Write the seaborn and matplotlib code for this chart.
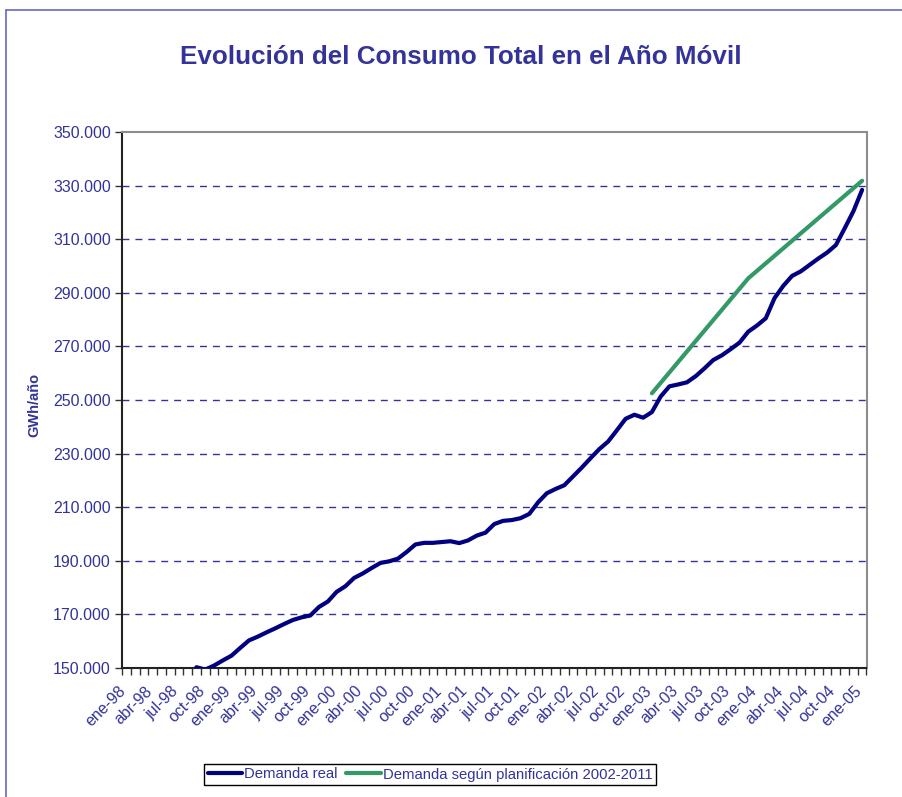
import numpy as np
import pandas as pd
import matplotlib
matplotlib.use('Agg')
import matplotlib.pyplot as plt
import seaborn as sns
from matplotlib.lines import Line2D
from matplotlib.ticker import FuncFormatter, FixedLocator
from matplotlib.transforms import ScaledTranslation

# ---------------- data ----------------
meses = ['ene', 'feb', 'mar', 'abr', 'may', 'jun', 'jul', 'ago', 'sep', 'oct', 'nov', 'dic']
anios = ['98', '99', '00', '01', '02', '03', '04', '05']
categorias = [f'{m}-{a}' for a in anios for m in meses][:85]   # ene-98 .. ene-05

# Demanda real (GWh/año, año móvil) from sep-98 to ene-05
real_inicio = 'sep-98'
demanda_real = [
    150300, 149400, 150900, 152800,                                   # sep-98 .. dic-98
    154600, 157500, 160300, 161700, 163300, 164800,                   # ene-99 .. jun-99
    166400, 167900, 168900, 169600, 172800, 174800,                   # jul-99 .. dic-99
    178400, 180500, 183600, 185300, 187300, 189200,                   # ene-00 .. jun-00
    189800, 190800, 193300, 196100, 196700, 196700,                   # jul-00 .. dic-00
    197000, 197300, 196600, 197600, 199400, 200500,                   # ene-01 .. jun-01
    203700, 204900, 205200, 205900, 207500, 211800,                   # jul-01 .. dic-01
    215200, 216800, 218200, 221500, 224800, 228300,                   # ene-02 .. jun-02
    231700, 234500, 238700, 243000, 244500, 243400,                   # jul-02 .. dic-02
    245500, 251300, 255100, 255800, 256600, 258900,                   # ene-03 .. jun-03
    261800, 264900, 266700, 269000, 271400, 275500,                   # jul-03 .. dic-03
    277800, 280500, 288000, 292600, 296300, 298000,                   # ene-04 .. jun-04
    300400, 302800, 305000, 307800, 314000, 320400,                   # jul-04 .. dic-04
    328400,                                                           # ene-05
]

plan_meses = ['ene-03', 'dic-03', 'ene-05']
demanda_plan = [252500, 295400, 331800]

etiquetas_x = categorias[::3]
yticks = [150000, 170000, 190000, 210000, 230000, 250000, 270000, 290000, 310000, 330000, 350000]

# ---------------- frames ----------------
i0 = categorias.index(real_inicio)
df_real = pd.DataFrame({'mes': categorias[i0:i0 + len(demanda_real)], 'valor': demanda_real})
df_real['pos'] = df_real['mes'].map(categorias.index)
df_plan = pd.DataFrame({'mes': plan_meses, 'valor': demanda_plan})
df_plan['pos'] = df_plan['mes'].map(categorias.index)

# ---------------- style ----------------
sns.set_theme(style='white')
plt.rcParams['font.family'] = ['Liberation Sans', 'DejaVu Sans']
TXT = '#333399'

W, H = 902, 797
fig = plt.figure(figsize=(W / 100, H / 100), dpi=100)
fig.patch.set_facecolor('white')
L, R, T, B = 122, 866.5, 132, 668
ax = fig.add_axes([L / W, 1 - B / H, (R - L) / W, (B - T) / H])

sns.lineplot(data=df_real, x='pos', y='valor', ax=ax, color='#000080', linewidth=3.0,
             label='Demanda real', solid_capstyle='round', solid_joinstyle='round', zorder=3)
sns.lineplot(data=df_plan, x='pos', y='valor', ax=ax, color='#339966', linewidth=3.0,
             label='Demanda según planificación 2002-2011', solid_capstyle='round',
             solid_joinstyle='round', zorder=4)

n = len(categorias)
ax.set_xlim(-0.5, n - 0.5)
ax.set_ylim(150000, 350000)

# y axis
ax.set_yticks(yticks)
ax.yaxis.set_major_formatter(FuncFormatter(lambda v, p: f'{int(v):,}'.replace(',', '.')))
ax.tick_params(axis='y', which='major', direction='out', length=5, width=1, color='#333333',
               labelsize=11.5, labelcolor=TXT, pad=3, left=True)
for yv in yticks[1:-1]:
    ax.axhline(yv, color='#333399', linewidth=1.0, linestyle=(0, (5, 4.3)), zorder=1)

# x axis: minor ticks = category boundaries (marks), major = labels
ax.xaxis.set_minor_locator(FixedLocator(np.arange(-0.5, n, 1.0)))
lab_pos = [categorias.index(c) for c in etiquetas_x]
ax.set_xticks(lab_pos)
ax.set_xticklabels(etiquetas_x, rotation=45, ha='right', va='top', rotation_mode='anchor')
ax.tick_params(axis='x', which='major', length=0, labelsize=11.5, labelcolor=TXT, pad=11)
ax.tick_params(axis='x', which='minor', direction='out', length=5, width=1, color='#333333',
               bottom=True)
for lab in ax.get_xticklabels():
    lab.set_transform(lab.get_transform() + ScaledTranslation(-8 / 100, 0, fig.dpi_scale_trans))

ax.set_xlabel('')
ax.set_ylabel('')

for s in ['left', 'bottom']:
    ax.spines[s].set_color('#222222')
    ax.spines[s].set_linewidth(1.5)
for s in ['top', 'right']:
    ax.spines[s].set_color('#8c8c8c')
    ax.spines[s].set_linewidth(1.5)

# legend
leg = ax.legend(loc='center', bbox_to_anchor=(430 / W, 1 - 774.5 / H), bbox_transform=fig.transFigure,
                ncol=2, frameon=True, fancybox=False, framealpha=1, edgecolor='#000000',
                fontsize=10.7, handlelength=2.3, handletextpad=0.15, columnspacing=0.6,
                borderpad=0.25, borderaxespad=0)
leg.get_frame().set_linewidth(1.0)
for t in leg.get_texts():
    t.set_color(TXT)

# title and y label
fig.text(461 / W, 1 - 57 / H, 'Evolución del Consumo Total en el Año Móvil', ha='center', va='center',
         fontsize=18.7, fontweight='bold', color=TXT)
fig.text(34 / W, 1 - 405 / H, 'GWh/año', ha='center', va='center', rotation=90,
         fontsize=10.5, fontweight='bold', color=TXT)

# chart-area border (left and top visible)
bc = '#6666CC'
fig.add_artist(Line2D([6 / W, 6 / W], [0, 1 - 10 / H], transform=fig.transFigure, color=bc, lw=1.2))
fig.add_artist(Line2D([6 / W, 1], [1 - 10 / H, 1 - 10 / H], transform=fig.transFigure, color=bc, lw=1.2))

fig.savefig('out.png', dpi=100, facecolor='white')
